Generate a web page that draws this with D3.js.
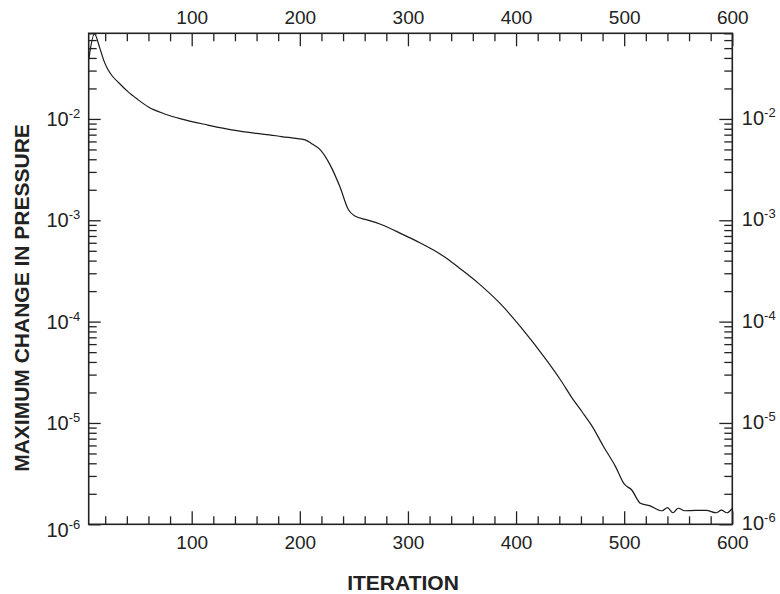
<!DOCTYPE html>
<html>
<head>
<meta charset="utf-8">
<script src="https://cdn.jsdelivr.net/npm/d3@7"></script>
<style>
  body { margin: 0; background: #fff; }
  svg { display: block; font-family: "Liberation Sans", Arial, sans-serif; }
</style>
</head>
<body>
<div id="chart"></div>
<script>
// data
const iterations = [5, 10, 15, 19, 22, 26, 33, 41, 50, 60, 75, 91, 115, 137, 160, 172, 183, 198, 205, 211,
  219, 228, 237, 245, 251, 262, 274, 296, 311, 324, 336, 348, 365, 385, 404, 428, 441, 453, 461, 470, 481,
  492, 500, 507, 515, 524, 532, 535, 540, 545, 550, 556, 566, 576, 585, 590, 595, 600];
const maxChange = [4.0e-2, 6.9e-2, 5.0e-2, 3.7e-2, 3.15e-2, 2.7e-2, 2.25e-2, 1.86e-2, 1.56e-2, 1.31e-2, 1.12e-2, 9.95e-3, 8.7e-3, 7.8e-3, 7.2e-3, 6.97e-3, 6.7e-3, 6.4e-3, 6.22e-3, 5.7e-3,
  4.95e-3, 3.52e-3, 2.15e-3, 1.27e-3, 1.1e-3, 1.01e-3, 9.2e-4, 7.18e-4, 6.0e-4, 5.05e-4, 4.2e-4, 3.35e-4, 2.4e-4, 1.52e-4, 8.93e-5, 4.19e-5, 2.67e-5, 1.69e-5, 1.29e-5, 9.4e-6, 5.83e-6,
  3.71e-6, 2.5e-6, 2.18e-6, 1.61e-6, 1.52e-6, 1.38e-6, 1.36e-6, 1.46e-6, 1.3e-6, 1.44e-6, 1.36e-6, 1.37e-6, 1.37e-6, 1.3e-6, 1.38e-6, 1.3e-6, 1.44e-6];

const xMajor = [100, 200, 300, 400, 500, 600];
const xMinor = d3.range(20, 600, 20).filter(v => v % 100 !== 0);
const yExponents = [-6, -5, -4, -3, -2];

const width = 780, height = 594;
const plotLeft = 88.7, plotRight = 732.3, plotTop = 33.3, plotBottom = 524.3;

const svg = d3.select("#chart").append("svg")
    .attr("width", width)
    .attr("height", height);

const x = d3.scaleLinear().domain([4.74, 600]).range([plotLeft, plotRight]);
const y = d3.scaleLog().domain([1e-6, 0.07]).range([plotBottom, plotTop]);

const yMajor = yExponents.map(e => Math.pow(10, e));
const yMinor = [];
for (let e = -6; e <= -2; e++) {
  for (let m = 2; m <= 9; m++) {
    const v = m * Math.pow(10, e);
    if (v <= 0.07) yMinor.push(v);
  }
}

// ticks (all pointing inwards)
function styleAxis(g) {
  g.select(".domain").remove();
  g.selectAll(".tick line").attr("stroke", "#222").attr("stroke-width", 1.3);
  g.selectAll(".tick text").attr("fill", "#222").attr("font-size", 19);
}

svg.append("g").attr("transform", `translate(0,${plotBottom})`)
    .call(d3.axisBottom(x).tickValues(xMajor).tickSize(-13).tickPadding(11).tickFormat(d3.format("d")))
    .call(styleAxis);
svg.append("g").attr("transform", `translate(0,${plotBottom})`)
    .call(d3.axisBottom(x).tickValues(xMinor).tickSize(-8).tickFormat(""))
    .call(styleAxis);
svg.append("g").attr("transform", `translate(0,${plotTop})`)
    .call(d3.axisTop(x).tickValues(xMajor).tickSize(-13).tickPadding(9).tickFormat(d3.format("d")))
    .call(styleAxis);
svg.append("g").attr("transform", `translate(0,${plotTop})`)
    .call(d3.axisTop(x).tickValues(xMinor).tickSize(-8).tickFormat(""))
    .call(styleAxis);

svg.append("g").attr("transform", `translate(${plotLeft},0)`)
    .call(d3.axisLeft(y).tickValues(yMajor).tickSize(-12).tickFormat(""))
    .call(styleAxis);
svg.append("g").attr("transform", `translate(${plotLeft},0)`)
    .call(d3.axisLeft(y).tickValues(yMinor).tickSize(-8).tickFormat(""))
    .call(styleAxis);
svg.append("g").attr("transform", `translate(${plotRight},0)`)
    .call(d3.axisRight(y).tickValues(yMajor).tickSize(-13).tickFormat(""))
    .call(styleAxis);
svg.append("g").attr("transform", `translate(${plotRight},0)`)
    .call(d3.axisRight(y).tickValues(yMinor).tickSize(-8).tickFormat(""))
    .call(styleAxis);

// frame
svg.append("rect")
    .attr("x", plotLeft).attr("y", plotTop)
    .attr("width", plotRight - plotLeft).attr("height", plotBottom - plotTop)
    .attr("fill", "none").attr("stroke", "#222").attr("stroke-width", 1.6);

// power-of-ten labels
function powerLabel(sel, anchor) {
  sel.attr("text-anchor", anchor).attr("font-size", 20).attr("fill", "#222");
  sel.append("tspan").text("10");
  sel.append("tspan").attr("font-size", 13).attr("dy", -8).text(d => d);
}
svg.append("g").selectAll("text")
    .data(yExponents)
    .join("text")
    .attr("x", plotLeft - 8.5)
    .attr("y", d => y(Math.pow(10, d)) + (d === -6 ? 12.5 : 7))
    .call(powerLabel, "end");
svg.append("g").selectAll("text")
    .data(yExponents)
    .join("text")
    .attr("x", plotRight + 9.5)
    .attr("y", d => y(Math.pow(10, d)) + 6)
    .call(powerLabel, "start");

// curve
const line = d3.line()
    .x((d, i) => x(iterations[i]))
    .y(d => y(d))
    .curve(d3.curveMonotoneX);

svg.append("path")
    .datum(maxChange)
    .attr("fill", "none")
    .attr("stroke", "#1a1a1a")
    .attr("stroke-width", 1.2)
    .attr("d", line);

// axis titles
svg.append("text")
    .attr("x", 403).attr("y", 590)
    .attr("text-anchor", "middle")
    .attr("font-size", 21).attr("font-weight", "bold").attr("fill", "#222")
    .text("ITERATION");

svg.append("text")
    .attr("transform", `translate(28.5,298) rotate(-90)`)
    .attr("text-anchor", "middle")
    .attr("font-size", 21).attr("font-weight", "bold").attr("fill", "#222")
    .text("MAXIMUM CHANGE IN PRESSURE");
</script>
</body>
</html>
